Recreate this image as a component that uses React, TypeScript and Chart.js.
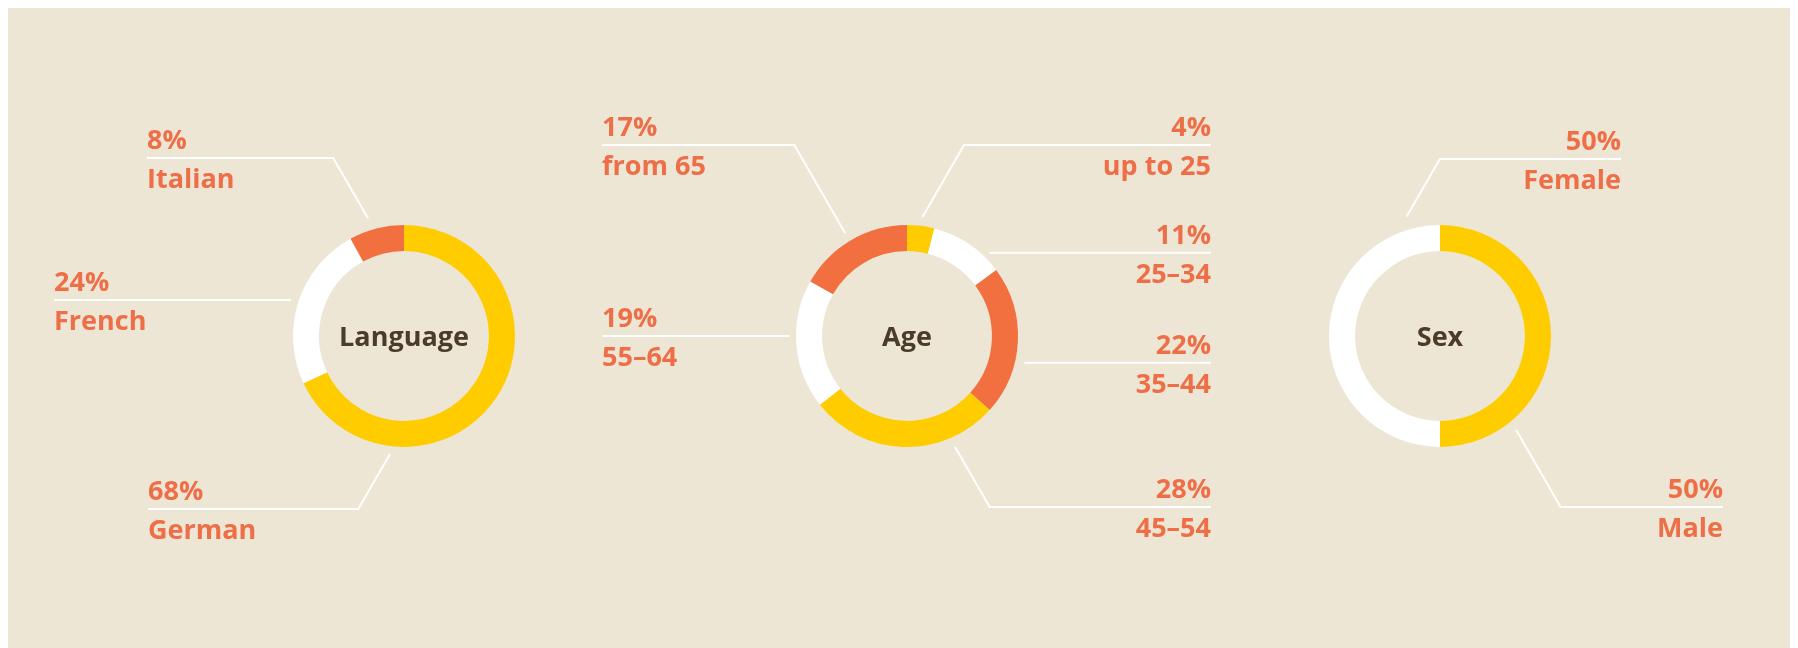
import React, { useEffect, useRef } from 'react';
import { Chart, registerables } from 'chart.js';

Chart.register(...registerables);

// ---------- data ----------
const chartTitles = ['Language', 'Age', 'Sex'];

const languageLabels = ['German', 'French', 'Italian'];
const languageValues = [68, 24, 8];

const ageLabels = ['up to 25', '25–34', '35–44', '45–54', '55–64', 'from 65'];
const ageValues = [4, 11, 22, 28, 19, 17];

const sexLabels = ['Male', 'Female'];
const sexValues = [50, 50];

// ---------- styles ----------
const BG = '#ede6d5';
const YELLOW = '#ffcc00';
const WHITE = '#ffffff';
const ORANGE = '#f2703f';
const TEXT_ORANGE = '#ee6f47';
const TEXT_DARK = '#4a3c29';
const FONT = '"Open Sans", "DejaVu Sans", sans-serif';

const languageColors = [YELLOW, WHITE, ORANGE];
const ageColors = [YELLOW, WHITE, ORANGE, YELLOW, WHITE, ORANGE];
const sexColors = [YELLOW, WHITE];

const W = 1790;
const H = 640;
const RADIUS = 111;

type Callout = { angle: number; dist: number; lineDy?: number; endDx: number; side: 'left' | 'right' };

// callout geometry, relative to each ring centre (one per segment)
const languageCallouts: Callout[] = [
  { angle: 186.8, dist: 119, lineDy: 173, endDx: -256, side: 'left' },
  { angle: 287.7, dist: 118.6, endDx: -350, side: 'left' },
  { angle: 343, dist: 123, lineDy: -178, endDx: -257, side: 'left' },
];
const ageCallouts: Callout[] = [
  { angle: 7.4, dist: 120, lineDy: -191, endDx: 304, side: 'right' },
  { angle: 44.8, dist: 117.4, endDx: 304, side: 'right' },
  { angle: 102.8, dist: 120.5, endDx: 304, side: 'right' },
  { angle: 156.6, dist: 120.7, lineDy: 171, endDx: 304, side: 'right' },
  { angle: 270, dist: 117, endDx: -305, side: 'left' },
  { angle: 329, dist: 120, lineDy: -191, endDx: -305, side: 'left' },
];
const sexCallouts: Callout[] = [
  { angle: 141, dist: 121, lineDy: 171, endDx: 283, side: 'right' },
  { angle: 344.4, dist: 124, lineDy: -177, endDx: 181, side: 'right' },
];

const centers = [
  { x: 396, y: 328 },
  { x: 899, y: 328 },
  { x: 1432, y: 328 },
];

const calloutPlugin = {
  id: 'callouts',
  afterDatasetsDraw(chart: any, _args: any, opts: any) {
    const arc = chart.getDatasetMeta(0).data[0];
    if (!arc) return;
    const cx = arc.x;
    const cy = arc.y;
    const ctx = chart.ctx;
    const labels: string[] = chart.data.labels;
    const values: number[] = chart.data.datasets[0].data;
    const callouts: Callout[] = opts.callouts || [];
    ctx.save();
    // centre title
    ctx.fillStyle = TEXT_DARK;
    ctx.font = `bold 27px ${FONT}`;
    ctx.textAlign = 'center';
    ctx.textBaseline = 'alphabetic';
    ctx.fillText(opts.title, cx, cy + 10);

    callouts.forEach((c, i) => {
      const a = (c.angle * Math.PI) / 180;
      const ax = cx + c.dist * Math.sin(a);
      const ay = cy - c.dist * Math.cos(a);
      const dir = c.side === 'left' ? -1 : 1;
      const lineY = c.lineDy === undefined ? ay : cy + c.lineDy;
      const elbowX = c.lineDy === undefined ? ax : ax + dir * Math.abs(lineY - ay) / Math.tan(Math.PI / 3);
      const endX = cx + c.endDx;
      ctx.strokeStyle = WHITE;
      ctx.lineWidth = 2;
      ctx.beginPath();
      ctx.moveTo(ax, ay);
      ctx.lineTo(elbowX, lineY);
      ctx.lineTo(endX, lineY);
      ctx.stroke();

      ctx.fillStyle = TEXT_ORANGE;
      ctx.font = `bold 27px ${FONT}`;
      ctx.textAlign = c.side === 'left' ? 'left' : 'right';
      ctx.fillText(`${values[i]}%`, endX, lineY - 9);
      ctx.fillText(labels[i], endX, lineY + 30);
    });
    ctx.restore();
  },
};

function Donut({ index, labels, values, colors, callouts }: any) {
  const ref = useRef<HTMLCanvasElement>(null);
  useEffect(() => {
    const c = centers[index];
    const chart = new Chart(ref.current as HTMLCanvasElement, {
      type: 'doughnut',
      data: {
        labels,
        datasets: [
          {
            data: values,
            backgroundColor: colors,
            borderWidth: 0,
            hoverOffset: 0,
            offset: 0,
          },
        ],
      },
      options: {
        responsive: false,
        animation: false,
        events: [],
        cutout: '76.5%',
        rotation: 0,
        layout: {
          padding: {
            left: c.x - RADIUS,
            top: c.y - RADIUS,
            right: W - c.x - RADIUS,
            bottom: H - c.y - RADIUS,
          },
        },
        plugins: {
          legend: { display: false },
          tooltip: { enabled: false },
          callouts: { callouts, title: chartTitles[index] },
        } as any,
      },
      plugins: [calloutPlugin],
    });
    return () => chart.destroy();
  }, []);
  return (
    <canvas
      ref={ref}
      width={W}
      height={H}
      style={{ position: 'absolute', left: 0, top: 0, width: W, height: H }}
    />
  );
}

export default function App() {
  useEffect(() => {
    document.documentElement.style.overflow = 'hidden';
    document.body.style.overflow = 'hidden';
  }, []);
  return (
    <div style={{ position: 'relative', width: W, height: H, background: BG }}>
      <Donut index={0} labels={languageLabels} values={languageValues} colors={languageColors} callouts={languageCallouts} />
      <Donut index={1} labels={ageLabels} values={ageValues} colors={ageColors} callouts={ageCallouts} />
      <Donut index={2} labels={sexLabels} values={sexValues} colors={sexColors} callouts={sexCallouts} />
    </div>
  );
}
